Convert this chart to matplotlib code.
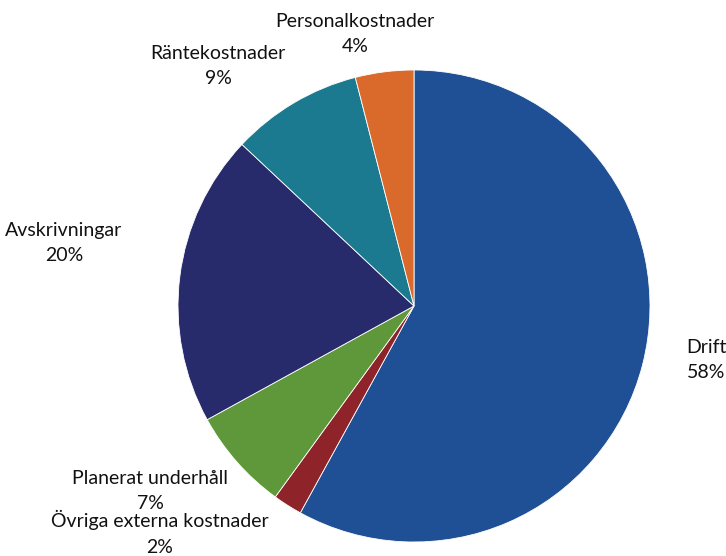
import matplotlib
matplotlib.use("Agg")
import matplotlib.pyplot as plt

labels = ["Drift", "Övriga externa kostnader", "Planerat underhåll",
          "Avskrivningar", "Räntekostnader", "Personalkostnader"]
values = [58, 2, 7, 20, 9, 4]
colors = ["#1F4F94", "#8E2329", "#5E983A", "#272B6B", "#1B7A8F", "#D96A2C"]

# label centre positions (pixel coords, y from top)
label_pos = {
    "Drift": (706, 360),
    "Övriga externa kostnader": (160, 533),
    "Planerat underhåll": (150, 491),
    "Avskrivningar": (64, 243),
    "Räntekostnader": (218, 66),
    "Personalkostnader": (355, 34),
}

plt.rcParams['font.family'] = ['Lato', 'DejaVu Sans']
W, H = 726, 556
fig = plt.figure(figsize=(W / 100, H / 100), dpi=100)
ax = fig.add_axes([0, 0, 1, 1])
ax.set_xlim(0, W)
ax.set_ylim(0, H)
ax.set_aspect('equal')
ax.axis('off')

ax.pie(values, colors=colors, startangle=90, counterclock=False,
       center=(414, H - 306), radius=236,
       wedgeprops=dict(edgecolor='white', linewidth=0.6))
ax.set_xlim(0, W)
ax.set_ylim(0, H)

for lab, v in zip(labels, values):
    x, y = label_pos[lab]
    ax.text(x, H - y, f"{lab}\n{v}%", ha='center', va='center',
            fontsize=14, color='#111111', linespacing=1.6)

fig.savefig("out.png", dpi=100)
